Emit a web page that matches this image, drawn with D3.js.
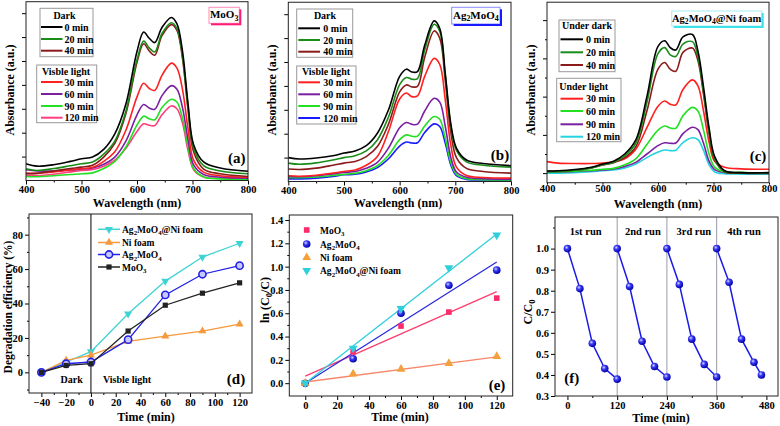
<!DOCTYPE html>
<html><head><meta charset="utf-8">
<script src="https://cdn.jsdelivr.net/npm/d3@7"></script>
<style>
body{margin:0;background:#fff}
svg{display:block}
text{font-family:"Liberation Serif","Times New Roman",serif;font-weight:bold;fill:#000}
</style>
</head><body><svg id="c" width="780" height="426"></svg>
<script>
// ---------------- DATA ----------------
const wavelengths = [400,420,450,480,500,520,540,560,580,600,612,622,632,645,662,672,682,692,702,720,750,800];
const wlTicks = [400,500,600,700,800];
const wlMinor = [450,550,650,750];

// (a) MoO3
const moo3_0   = [0.070,0.060,0.066,0.080,0.091,0.098,0.130,0.195,0.320,0.540,0.621,0.595,0.577,0.640,0.682,0.655,0.540,0.320,0.150,0.078,0.052,0.039];
const moo3_20  = [0.049,0.042,0.050,0.062,0.070,0.077,0.110,0.165,0.290,0.505,0.583,0.555,0.538,0.615,0.660,0.635,0.520,0.305,0.135,0.062,0.040,0.028];
const moo3_40  = [0.028,0.030,0.040,0.050,0.056,0.064,0.098,0.155,0.280,0.495,0.572,0.542,0.524,0.606,0.652,0.628,0.510,0.295,0.120,0.048,0.028,0.017];
const moo3_L30 = [0.031,0.030,0.036,0.044,0.049,0.055,0.080,0.120,0.210,0.350,0.407,0.385,0.377,0.440,0.491,0.470,0.380,0.215,0.085,0.035,0.020,0.014];
const moo3_L60 = [0.045,0.040,0.040,0.044,0.048,0.052,0.068,0.098,0.165,0.275,0.318,0.303,0.298,0.355,0.397,0.382,0.305,0.170,0.065,0.025,0.014,0.010];
const moo3_L90 = [0.017,0.016,0.020,0.025,0.028,0.032,0.050,0.080,0.140,0.232,0.269,0.258,0.254,0.305,0.340,0.328,0.260,0.140,0.050,0.015,0.007,0.004];
const moo3_L120= [0.022,0.020,0.026,0.036,0.042,0.046,0.060,0.085,0.135,0.205,0.237,0.231,0.230,0.275,0.312,0.300,0.240,0.125,0.045,0.015,0.009,0.008];

// (b) Ag2MoO4
const ag_0   = [0.100,0.094,0.098,0.108,0.119,0.128,0.150,0.202,0.300,0.440,0.470,0.458,0.460,0.570,0.672,0.640,0.450,0.240,0.140,0.090,0.075,0.066];
const ag_20  = [0.077,0.072,0.078,0.090,0.100,0.108,0.128,0.174,0.270,0.405,0.435,0.428,0.430,0.550,0.658,0.628,0.440,0.230,0.130,0.082,0.068,0.060];
const ag_40  = [0.052,0.050,0.056,0.068,0.077,0.084,0.104,0.146,0.240,0.375,0.404,0.396,0.398,0.520,0.630,0.600,0.420,0.205,0.100,0.055,0.042,0.035];
const ag_L30 = [0.024,0.022,0.026,0.035,0.042,0.048,0.068,0.105,0.210,0.345,0.370,0.355,0.358,0.440,0.515,0.490,0.340,0.150,0.060,0.025,0.017,0.014];
const ag_L60 = [0.021,0.020,0.024,0.032,0.038,0.042,0.055,0.080,0.140,0.225,0.247,0.239,0.240,0.295,0.348,0.332,0.230,0.100,0.040,0.018,0.012,0.010];
const ag_L90 = [0.017,0.016,0.019,0.025,0.030,0.034,0.045,0.066,0.110,0.175,0.195,0.189,0.190,0.232,0.272,0.260,0.180,0.078,0.030,0.012,0.008,0.007];
const ag_L120= [0.011,0.011,0.014,0.021,0.028,0.030,0.040,0.058,0.095,0.148,0.165,0.161,0.162,0.205,0.241,0.230,0.160,0.068,0.024,0.009,0.006,0.005];

// (c) Ag2MoO4@Ni foam
const ni_0   = [0.049,0.050,0.055,0.065,0.078,0.090,0.120,0.179,0.360,0.570,0.594,0.565,0.555,0.610,0.620,0.550,0.400,0.230,0.110,0.050,0.042,0.042];
const ni_20  = [0.045,0.047,0.052,0.062,0.075,0.086,0.112,0.165,0.335,0.540,0.565,0.535,0.528,0.580,0.590,0.525,0.380,0.215,0.100,0.048,0.042,0.041];
const ni_40  = [0.048,0.048,0.052,0.062,0.074,0.084,0.105,0.150,0.300,0.475,0.503,0.475,0.466,0.545,0.563,0.510,0.370,0.205,0.095,0.046,0.040,0.039];
const ni_L30 = [0.088,0.082,0.080,0.080,0.082,0.088,0.100,0.140,0.230,0.320,0.342,0.328,0.325,0.390,0.430,0.405,0.300,0.170,0.090,0.065,0.058,0.056];
const ni_L60 = [0.045,0.046,0.048,0.052,0.056,0.060,0.075,0.100,0.160,0.220,0.237,0.229,0.228,0.280,0.315,0.300,0.220,0.120,0.065,0.045,0.042,0.040];
const ni_L90 = [0.045,0.045,0.047,0.050,0.053,0.057,0.068,0.085,0.120,0.155,0.167,0.165,0.166,0.205,0.232,0.222,0.165,0.090,0.055,0.043,0.040,0.040];
const ni_L120= [0.040,0.040,0.042,0.046,0.050,0.053,0.062,0.078,0.105,0.128,0.137,0.134,0.136,0.168,0.188,0.180,0.135,0.075,0.045,0.038,0.036,0.036];

const darkLabels = ["0 min","20 min","40 min"];
const lightLabels = ["30 min","60 min","90 min","120 min"];

// (d) degradation efficiency
const degTime = [-40,-20,0,30,60,90,120];
const degNiFoamComposite = [0,6,12,34,53,67,75];
const degNiFoam = [0,7,10,18,21,24,28];
const degAg2MoO4 = [0,5,6,19,45,57,62];
const degMoO3 = [0,4,5,24,39,46,52];
const degTicksX = [-40,-20,0,20,40,60,80,100,120];
const degTicksY = [0,20,40,60,80];

// (e) kinetics ln(C0/C)
const kinTime = [0,30,60,90,120];
const lnMoO3 = [0,0.27,0.49,0.61,0.73];
const lnAg2MoO4 = [0,0.21,0.60,0.84,0.97];
const lnNiFoam = [0,0.08,0.12,0.17,0.23];
const lnComposite = [0,0.30,0.64,0.99,1.27];
const fitAt0 = [0.06,0.0,0.01,0.0];      // MoO3, Ag2MoO4, Ni foam, composite
const fitAt120 = [0.785,1.04,0.225,1.28];
const kinTicksX = [0,20,40,60,80,100,120];
const kinTicksY = [0,0.2,0.4,0.6,0.8,1.0,1.2,1.4];

// (f) recycling
const run1T = [0,30,60,90,120],    run1V = [1.0,0.81,0.55,0.43,0.38];
const run2T = [120,150,180,210,240], run2V = [1.0,0.82,0.56,0.44,0.39];
const run3T = [240,270,300,330,360], run3V = [1.0,0.83,0.57,0.45,0.39];
const run4T = [360,390,420,450,468], run4V = [1.0,0.84,0.57,0.46,0.40];
const runLabels = ["1st run","2nd run","3rd run","4th run"];
const runLabelT = [44,182,305,426];
const runSeparators = [120,240,360];
const cycTicksX = [0,120,240,360,480];
const cycTicksY = [0.3,0.4,0.5,0.6,0.7,0.8,0.9,1.0];

// ---------------- HELPERS ----------------
const svg = d3.select('#c');
svg.append('rect').attr('width',780).attr('height',426).attr('fill','#fff');
const defs = svg.append('defs');
const grad = defs.append('radialGradient').attr('id','sph').attr('cx','38%').attr('cy','35%').attr('r','65%');
grad.append('stop').attr('offset','0%').attr('stop-color','#d8d8ff');
grad.append('stop').attr('offset','40%').attr('stop-color','#3a3af5');
grad.append('stop').attr('offset','100%').attr('stop-color','#0000a8');

function rich(t, s){
  const parts = s.split(/(\{[^}]*\})/).filter(p=>p.length);
  let sub=false;
  parts.forEach(p=>{
    if(p[0]==='{'){ t.append('tspan').attr('dy',2.5).attr('font-size','0.72em').text(p.slice(1,-1)); sub=true; }
    else { const ts=t.append('tspan').text(p); if(sub){ ts.attr('dy',-2.5); sub=false; } }
  });
  return t;
}
function txt(x,y,s,size,anchor){
  const t = svg.append('text').attr('x',x).attr('y',y).attr('font-size',size).attr('text-anchor',anchor||'middle');
  return rich(t,s);
}
function vtxt(x,y,s,size){
  const t = svg.append('text').attr('transform',`translate(${x},${y}) rotate(-90)`).attr('font-size',size).attr('text-anchor','middle');
  return rich(t,s);
}
function axes(x, y, o){
  const [x0,x1]=x.range(), [yb,yt]=y.range();
  const g = svg.append('g');
  const ts = o.ts==null ? 4 : o.ts;
  g.append('g').attr('transform',`translate(0,${yb})`)
    .call(d3.axisBottom(x).tickValues(o.xt).tickSize(ts).tickPadding(o.tp==null?1.5:o.tp).tickFormat(o.xf||d3.format('d')));
  if(o.xm) g.append('g').attr('transform',`translate(0,${yb})`).call(d3.axisBottom(x).tickValues(o.xm).tickSize(2).tickFormat(''));
  g.append('g').attr('transform',`translate(${x0},0)`)
    .call(d3.axisLeft(y).tickValues(o.yt).tickSize(4).tickPadding(2).tickFormat(o.yf===null? '' : (o.yf||d3.format('d'))));
  if(o.ym) g.append('g').attr('transform',`translate(${x0},0)`).call(d3.axisLeft(y).tickValues(o.ym).tickSize(2).tickFormat(''));
  g.selectAll('.domain').remove();
  g.selectAll('line').attr('stroke','#000').attr('stroke-width',1);
  g.selectAll('text').attr('font-family','"Liberation Serif","Times New Roman",serif').attr('font-weight','bold').attr('font-size',10.5).attr('fill','#000');
  g.append('rect').attr('x',x0).attr('y',yt).attr('width',x1-x0).attr('height',yb-yt)
    .attr('fill','none').attr('stroke', '#222').attr('stroke-width',1);
  return g;
}

// ---------------- SPECTRA PANELS ----------------
function spectra(p){
  const x = d3.scaleLinear().domain([400,800]).range(p.xr);
  const y = d3.scaleLinear().domain(p.yd).range(p.yr);
  const line = d3.line().x((d,i)=>x(wavelengths[i])).y(d=>y(d)).curve(d3.curveCatmullRom.alpha(0.5));
  const g = svg.append('g');
  p.series.map((s,i)=>i).reverse().forEach(i=>{
    g.append('path').attr('d',line(p.series[i])).attr('fill','none').attr('stroke',p.colors[i]).attr('stroke-width',1.6);
  });
  axes(x,y,{xt:wlTicks,xm:wlMinor,yt:p.yticks,ym:p.yminor,yf:null,ts:p.ts,tp:p.tp});
  const L = p.leg;
  [[L.box1,L.title1,L.ys1,darkLabels,0],[L.box2,L.title2,L.ys2,lightLabels,3]].forEach(([b,title,ys,labs,off])=>{
    svg.append('rect').attr('x',b[0]).attr('y',b[1]).attr('width',b[2]-b[0]).attr('height',b[3]-b[1])
      .attr('fill','#fff').attr('stroke','#999').attr('stroke-width',1);
    txt(title[1],title[2]+3.5,title[0],10);
    labs.forEach((lab,k)=>{
      svg.append('line').attr('x1',L.lx[0]).attr('x2',L.lx[1]).attr('y1',ys[k]).attr('y2',ys[k])
        .attr('stroke',p.colors[off+k]).attr('stroke-width',2);
      txt(L.tx, ys[k]+3.5, lab, 10, 'start');
    });
  });
  const B = p.lbox;
  svg.append('rect').attr('x',B.r[0]+2).attr('y',B.r[1]+2).attr('width',B.r[2]-B.r[0]).attr('height',B.r[3]-B.r[1]).attr('fill',B.c);
  svg.append('rect').attr('x',B.r[0]).attr('y',B.r[1]).attr('width',B.r[2]-B.r[0]).attr('height',B.r[3]-B.r[1]).attr('fill','#fff').attr('stroke',B.c).attr('stroke-opacity',0.5);
  txt((B.r[0]+B.r[2])/2, (B.r[1]+B.r[3])/2+3, B.t, B.fs||11);
  txt(p.tag[0],p.tag[1],p.tag[2],15);
  vtxt(p.yl[0],p.yl[1],'Absorbance (a.u.)',12);
  txt(p.xl[0],p.xl[1],'Wavelength (nm)',12);
}

spectra({
  xr:[26,248], yd:[0,0.748], yr:[180.5,1.7],
  series:[moo3_0,moo3_20,moo3_40,moo3_L30,moo3_L60,moo3_L90,moo3_L120],
  colors:['#000000','#1a8c1a','#8b1a1a','#ff2020','#7a1fa2','#22e022','#ff3d7f'],
  yticks:[0.1,0.2,0.3,0.4,0.5,0.6,0.7], yminor:[],
  leg:{box1:[40,8.3,93,56.7],title1:['Dark',64.5,15],ys1:[27,39,50.7],
       box2:[36.7,65,96.7,122.7],title2:['Visble light',66,71],ys2:[82,94,106,117.7],
       lx:[41,62.5],tx:64.5},
  lbox:{r:[209,7.3,239.3,23.3],c:'#ff1a75',t:'MoO{3}'},
  tag:[236.7,163,'(a)'], yl:[14,90], xl:[137,206.5]
});
spectra({
  xr:[288.3,511], yd:[0,0.75], yr:[181.5,2.25],
  series:[ag_0,ag_20,ag_40,ag_L30,ag_L60,ag_L90,ag_L120],
  colors:['#000000','#1a8c1a','#8b1a1a','#ff2020','#7a1fa2','#22e022','#1a1aff'],
  yticks:[0.1,0.2,0.3,0.4,0.5,0.6,0.7], yminor:[],
  leg:{box1:[296.7,9,352.7,57.3],title1:['Dark',325,15.7],ys1:[28.3,40,51.7],
       box2:[296.7,66,356,124],title2:['Visble light',326,71],ys2:[82.3,94.3,106,118],
       lx:[298.3,320],tx:323.3},
  lbox:{r:[451.7,7.3,500,24],c:'#1a1aff',t:'Ag{2}MoO{4}'},
  tag:[500,160,'(b)'], yl:[276,90], xl:[398,206.5]
});
spectra({
  xr:[547,769], yd:[0,0.755], yr:[182.7,2.2], ts:2, tp:0,
  series:[ni_0,ni_20,ni_40,ni_L30,ni_L60,ni_L90,ni_L120],
  colors:['#000000','#1a8c1a','#8b1a1a','#ff2020','#22e022','#7a1fa2','#22d3e0'],
  yticks:[0.04,0.2,0.36,0.52,0.68], yminor:[0.12,0.28,0.44,0.60],
  leg:{box1:[559,20,615,71.7],title1:['Under dark',587,25.7],ys1:[39.3,52.3,65],
       box2:[556.7,78.3,621,141.7],title2:['Under light',583.7,86],ys2:[98.7,111,124.3,136.7],
       lx:[560.5,583],tx:586},
  lbox:{r:[671.7,11,761.7,26],c:'#3fe0e8',t:'Ag{2}MoO{4}@Ni foam',fs:10.5},
  tag:[758,161,'(c)'], yl:[535,90], xl:[658,207.5]
});

// ---------------- (d) ----------------
(function(){
  const x = d3.scaleLinear().domain([-50,130]).range([29,252]);
  const y = d3.scaleLinear().domain([-12,92]).range([393,214]);
  axes(x,y,{xt:degTicksX,xm:[-30,-10,10,30,50,70,90,110],yt:degTicksY,ym:[-10,10,30,50,70,90]});
  svg.append('line').attr('x1',x(0)).attr('x2',x(0)).attr('y1',y.range()[0]).attr('y2',y.range()[1]).attr('stroke','#000').attr('stroke-width',1);
  const series = [
    {v:degNiFoamComposite,c:'#3fd3d3',m:'tdown',name:'Ag{2}MoO{4}@Ni foam'},
    {v:degNiFoam,c:'#f59a3c',m:'tup',name:'Ni foam'},
    {v:degAg2MoO4,c:'#2020e8',m:'circ',name:'Ag{2}MoO{4}'},
    {v:degMoO3,c:'#222222',m:'sq',name:'MoO{3}'}
  ];
  const line = d3.line().x((d,i)=>x(degTime[i])).y(d=>y(d));
  function marker(cx,cy,s){
    if(s.m==='tdown') svg.append('path').attr('d',d3.symbol(d3.symbolTriangle,28)()).attr('transform',`translate(${cx},${cy}) rotate(180)`).attr('fill',s.c);
    else if(s.m==='tup') svg.append('path').attr('d',d3.symbol(d3.symbolTriangle,28)()).attr('transform',`translate(${cx},${cy})`).attr('fill',s.c);
    else if(s.m==='circ') svg.append('circle').attr('cx',cx).attr('cy',cy).attr('r',3.6).attr('fill','#c8c8ff').attr('stroke',s.c).attr('stroke-width',1.6);
    else svg.append('rect').attr('x',cx-2.6).attr('y',cy-2.6).attr('width',5.2).attr('height',5.2).attr('fill',s.c);
  }
  series.forEach(s=>{
    svg.append('path').attr('d',line(s.v)).attr('fill','none').attr('stroke',s.c).attr('stroke-width',1.3);
    s.v.forEach((d,i)=>marker(x(degTime[i]),y(d),s));
  });
  const ly=[229.3,242.5,254.5,267];
  series.forEach((s,k)=>{
    svg.append('line').attr('x1',98).attr('x2',120).attr('y1',ly[k]).attr('y2',ly[k]).attr('stroke',s.c).attr('stroke-width',1.5);
    marker(109,ly[k],s);
    txt(122,ly[k]+3.5,s.name,9.5,'start');
  });
  txt(71.7,382.5,'Dark',10);
  txt(127,382.5,'Visble light',10);
  txt(236,384,'(d)',15);
  vtxt(12,307,'Degradation efficiency (%)',11.5);
  txt(146,421,'Time (min)',12);
})();

// ---------------- (e) ----------------
(function(){
  const x = d3.scaleLinear().domain([-10,130]).range([289.3,512.7]);
  const y = d3.scaleLinear().domain([-0.11,1.443]).range([396,215]);
  axes(x,y,{xt:kinTicksX,xm:[10,30,50,70,90,110],yt:kinTicksY,ym:[0.1,0.3,0.5,0.7,0.9,1.1,1.3],yf:d3.format('.1f')});
  const series = [
    {v:lnMoO3,c:'#ff2a6a',lc:'#ff3d6e',m:'sq',name:'MoO{3}'},
    {v:lnAg2MoO4,c:'#1a1ae8',lc:'#2a2ae0',m:'sph',name:'Ag{2}MoO{4}'},
    {v:lnNiFoam,c:'#f5a03c',lc:'#f6876a',m:'tup',name:'Ni foam'},
    {v:lnComposite,c:'#2fd0dc',lc:'#2fd0dc',m:'tdown',name:'Ag{2}MoO{4}@Ni foam'}
  ];
  function marker(cx,cy,s){
    if(s.m==='tdown') svg.append('path').attr('d',d3.symbol(d3.symbolTriangle,34)()).attr('transform',`translate(${cx},${cy}) rotate(180)`).attr('fill',s.c);
    else if(s.m==='tup') svg.append('path').attr('d',d3.symbol(d3.symbolTriangle,34)()).attr('transform',`translate(${cx},${cy})`).attr('fill',s.c);
    else if(s.m==='sph') svg.append('circle').attr('cx',cx).attr('cy',cy).attr('r',3.8).attr('fill','url(#sph)');
    else svg.append('rect').attr('x',cx-2.8).attr('y',cy-2.8).attr('width',5.6).attr('height',5.6).attr('fill',s.c);
  }
  series.forEach((s,k)=>{
    svg.append('line').attr('x1',x(0)).attr('x2',x(120)).attr('y1',y(fitAt0[k])).attr('y2',y(fitAt120[k]))
      .attr('stroke',s.lc).attr('stroke-width',1.3);
  });
  series.forEach(s=> s.v.forEach((d,i)=>marker(x(kinTime[i]),y(d),s)));
  const ly=[230,244,257.5,270.5];
  series.forEach((s,k)=>{ marker(306.7,ly[k],s); txt(320,ly[k]+3.5,s.name,9.5,'start'); });
  txt(497,390,'(e)',15);
  vtxt(269,300,'ln (C{0}/C)',12);
  txt(400,421,'Time (min)',12);
})();

// ---------------- (f) ----------------
(function(){
  const x = d3.scaleLinear().domain([-30,508]).range([555,778]);
  const y = d3.scaleLinear().domain([0.3,1.15]).range([396,217]);
  runSeparators.forEach(t=> svg.append('line').attr('x1',x(t)).attr('x2',x(t)).attr('y1',396).attr('y2',217).attr('stroke','#9a9aa8').attr('stroke-width',1));
  axes(x,y,{xt:cycTicksX,xm:[60,180,300,420],yt:cycTicksY,ym:[1.1],yf:d3.format('.1f')});
  const runs=[[run1T,run1V],[run2T,run2V],[run3T,run3V],[run4T,run4V]];
  runs.forEach(([T,V])=>{
    svg.append('path').attr('d',d3.line().x((d,i)=>x(T[i])).y(d=>y(d))(V)).attr('fill','none').attr('stroke','#1a1ae8').attr('stroke-width',1.5);
  });
  runs.forEach(([T,V])=> V.forEach((d,i)=> svg.append('circle').attr('cx',x(T[i])).attr('cy',y(d)).attr('r',3.8).attr('fill','url(#sph)')));
  runLabels.forEach((l,k)=> txt(x(runLabelT[k]),234.5,l,10.5));
  txt(571.7,383,'(f)',15);
  vtxt(532,312,'C/C{0}',12);
  txt(661,421.5,'Time (min)',12);
})();
</script>
</body></html>
